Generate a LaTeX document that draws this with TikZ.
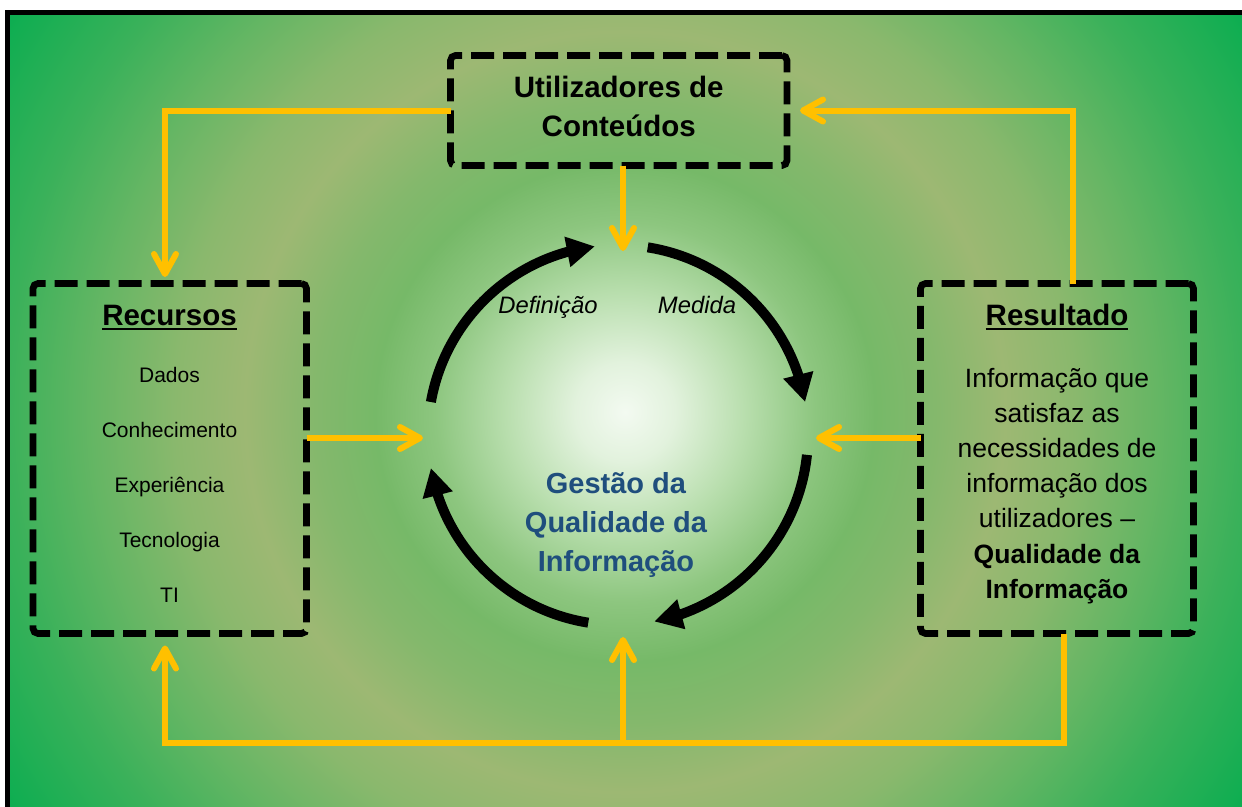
\documentclass[tikz,border=0pt]{standalone}
\usepackage{fontspec}
\setmainfont{Liberation Sans}
\usetikzlibrary{arrows.meta,bending,calc}
\definecolor{ylw}{HTML}{FFC000}
\definecolor{qblue}{HTML}{1F4E7D}
\definecolor{g0}{HTML}{F3FAF1}
\definecolor{g1}{HTML}{E2F2DD}
\definecolor{g2}{HTML}{B8DEAD}
\definecolor{g3}{HTML}{8DC67F}
\definecolor{g4}{HTML}{76B968}
\definecolor{g5}{HTML}{84B86C}
\definecolor{g6}{HTML}{9DB873}
\definecolor{g7}{HTML}{8AB86D}
\definecolor{g8}{HTML}{66B664}
\definecolor{g9}{HTML}{3AB15A}
\definecolor{g10}{HTML}{0AAD50}
\definecolor{g11}{HTML}{00AC4E}
\pgfdeclareradialshading{bgshade}{\pgfpoint{0bp}{0bp}}{color(0bp)=(g0); color(1.56bp)=(g1); color(3.75bp)=(g2); color(5.94bp)=(g3); color(7.81bp)=(g4); color(9.69bp)=(g5); color(11.88bp)=(g6); color(14.06bp)=(g7); color(16.56bp)=(g8); color(19.38bp)=(g9); color(23.1bp)=(g10); color(25bp)=(g11); color(50bp)=(g11)}
\newlength\ulwd
\newcommand\myul[1]{\settowidth\ulwd{#1}\rlap{\rule[-5pt]{\ulwd}{2.5pt}}#1}
\begin{document}
\begin{tikzpicture}[x=1pt,y=1pt,
  dbox/.style={draw=black, line width=6.7pt, dash pattern=on 23pt off 9pt, rounded corners=5pt, inner sep=0pt, outer sep=0pt},
  txt/.style={anchor=base, inner sep=0pt, outer sep=0pt},
  yarr/.style={draw=ylw, line width=6pt, -{Straight Barb[length=20pt,width=22pt,round]}},
  blk/.style={draw=black, line width=10pt, -{Triangle[length=28pt,width=29pt]}}]
\useasboundingbox (0,0) rectangle (1242,-806);
% background
\begin{scope}
  \clip (7,-12.5) rectangle (1242,-806);
  \shade[shading=bgshade] (625,-412) circle (800);
\end{scope}
\draw[line width=5pt] (7,-12.5) rectangle (1262,-830);

% boxes
\node[dbox, minimum width=336.5pt, minimum height=110pt] (ut) at (618.75,-110.5) {};
\node[dbox, minimum width=273.5pt, minimum height=350pt] (rec) at (169.75,-458.5) {};
\node[dbox, minimum width=273pt, minimum height=350pt] (res) at (1057,-458.5) {};

% texts
\node[txt, font=\fontsize{29.5}{39}\selectfont\bfseries] (utt) at (618.75,-97) {\begin{tabular}[t]{@{}c@{}}Utilizadores de\\Conteúdos\end{tabular}};
\node[txt, font=\fontsize{29.5}{35}\selectfont\bfseries] (rech) at (169.5,-325) {\myul{Recursos}};
\node[txt, font=\fontsize{21}{55}\selectfont] (items) at (169.5,-382) {\begin{tabular}[t]{@{}c@{}}Dados\\Conhecimento\\Experiência\\Tecnologia\\TI\end{tabular}};
\node[txt, font=\fontsize{29.5}{35}\selectfont\bfseries] (resh) at (1057,-325) {\myul{Resultado}};
\node[txt, font=\fontsize{26.5}{35.2}\selectfont] (rest) at (1057,-387) {\begin{tabular}[t]{@{}c@{}}Informação que\\satisfaz as\\necessidades de\\informação dos\\utilizadores \textendash\\\textbf{Qualidade da}\\\textbf{Informação}\end{tabular}};
\node[txt, font=\fontsize{23.8}{28}\selectfont\itshape] (def) at (548,-313) {Definição};
\node[txt, font=\fontsize{23.8}{28}\selectfont\itshape] (med) at (697,-313) {Medida};
\node[txt, font=\fontsize{29}{39}\selectfont\bfseries, text=qblue] (gq) at (616,-493) {\begin{tabular}[t]{@{}c@{}}Gestão da\\Qualidade da\\Informação\end{tabular}};

% cycle arcs
\coordinate (cc) at (618,-435);
\draw[blk] ($(cc)+(170:190)$) arc[start angle=170, end angle=97, radius=190];
\draw[blk] ($(cc)+(81:190)$) arc[start angle=81, end angle=10, radius=190];
\draw[blk] ($(cc)+(-6:190)$) arc[start angle=-6, end angle=-79, radius=190];
\draw[blk] ($(cc)+(-99:190)$) arc[start angle=-99, end angle=-170, radius=190];

% yellow connectors
\coordinate (tipT) at (623,-251);
\coordinate (tipL) at (423,-438);
\coordinate (tipR) at (816,-438);
\coordinate (tipB) at (623,-637);
\coordinate (bot) at (623,-743);
\draw[yarr] (ut.west) -| ([xshift=-4.75pt,yshift=6.5pt]rec.north);
\draw[yarr] ([xshift=16pt]res.north) |- ([xshift=13pt]ut.east);
\draw[yarr] (ut.south -| tipT) -- (tipT);
\draw[yarr] (rec.east |- tipL) -- (tipL);
\draw[yarr] (res.west |- tipR) -- (tipR);
\draw[yarr] ([xshift=7pt]res.south) -- ++(0,-109.5) -| ([xshift=-4.75pt,yshift=-12pt]rec.south);
\draw[yarr] (bot) -- (tipB);
\end{tikzpicture}
\end{document}
